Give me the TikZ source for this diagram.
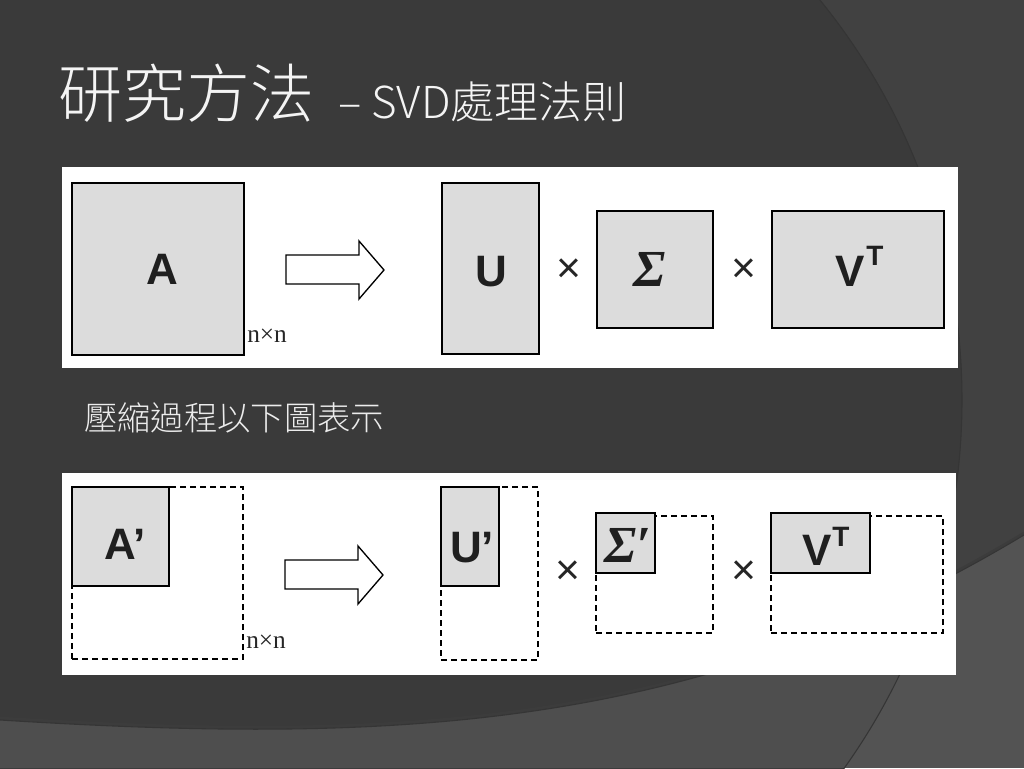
\documentclass[tikz,border=0pt]{standalone}
\usepackage{fontspec}
\usetikzlibrary{fit}
\newfontfamily\cjk{Noto Sans CJK TC}
\newfontfamily\cjklight{Noto Sans CJK TC Light}
\newfontfamily\lsans{Liberation Sans}
\newfontfamily\lserif{Liberation Serif}
\definecolor{bgA}{HTML}{3A3A3A}
\definecolor{bgB}{HTML}{414141}
\definecolor{bgC}{HTML}{4E4E4E}
\definecolor{bgD}{HTML}{535353}
\definecolor{edgeA}{HTML}{353535}
\definecolor{edgeB}{HTML}{3C3C3C}
\definecolor{boxfill}{HTML}{DCDCDC}
\definecolor{titlecol}{HTML}{F4F4F4}
\definecolor{subcol}{HTML}{ECECEC}
\tikzset{
  panel/.style={fill=white, draw=none},
  mbox/.style={draw=black, fill=boxfill, line width=1.5pt, inner sep=0pt, outer sep=0pt},
  dbox/.style={draw=black, line width=1.5pt, dash pattern=on 4.5pt off 3pt, inner sep=0pt, outer sep=0pt},
  blockarrow/.style={draw=black, fill=white, line width=1pt, line join=miter},
  bigletter/.style={inner sep=0pt, font=\lsans\bfseries\fontsize{33}{33}\selectfont, text=black!88},
  supletter/.style={inner sep=0pt, font=\lsans\bfseries\fontsize{21}{21}\selectfont, text=black!88},
  sigmaletter/.style={inner sep=0pt, font=\lserif\bfseries\itshape\fontsize{39}{39}\selectfont, text=black!88},
  timesop/.style={inner sep=0pt, font=\lsans\fontsize{32}{32}\selectfont, text=black!85},
  sizelabel/.style={inner sep=0pt, font=\lserif\fontsize{19}{19}\selectfont, text=black!85},
}
\begin{document}
\begin{tikzpicture}[x=0.75pt,y=-0.75pt]
% background
\useasboundingbox (0,0) rectangle (1024,768);
\fill[bgB] (0,0) rectangle (1024,768);
\fill[bgA] (328,400) circle [radius=475.5pt];
\begin{scope}
  \clip (0,720) .. controls (400,745) and (700,730) .. (1024,535) -- (1024,768) -- (0,768) -- cycle;
  \fill[bgD] (0,0) rectangle (1024,768);
  \fill[bgC] (328,400) circle [radius=475.5pt];
\end{scope}
\draw[edgeA, line width=0.8pt] (328,400) circle [radius=475.5pt];
\draw[edgeB, line width=2pt] (0,718) .. controls (400,743) and (700,728) .. (1024,533);
\draw[edgeA, line width=0.8pt] (0,720) .. controls (400,745) and (700,730) .. (1024,535);

% title
\node[anchor=base west, inner sep=0pt, text=titlecol, font=\cjklight\fontsize{48}{48}\selectfont] (title) at (58,117) {研究方法};
\node[anchor=base west, inner sep=0pt, text=titlecol, font=\cjklight\fontsize{33}{33}\selectfont] (title2) at (338,118) {– SVD處理法則};

% panels
\fill[panel] (62,167) rectangle (958,368);
\fill[panel] (62,473) rectangle (956,675);

% top row
\node[mbox, fit={(72,183) (244,355)}] (A) {};
\node[bigletter, anchor=base] (Alab) at (162,284) {A};
\node[sizelabel, anchor=base west] (nn1) at (247,342) {n×n};
\draw[blockarrow] (286,255) -- (359,255) -- (359,241) -- (384,270) -- (359,299) -- (359,284) -- (286,284) -- cycle;

\node[mbox, fit={(442,183) (539,354)}] (U) {};
\node[bigletter, anchor=base] (Ulab) at (491,286) {U};
\node[timesop] (x1) at (569,271) {×};
\node[mbox, fit={(597,211) (713,328)}] (S) {};
\node[sigmaletter, anchor=base] (Slab) at (650,286) {Σ};
\node[timesop] (x2) at (744,271) {×};
\node[mbox, fit={(772,211) (944,328)}] (V) {};
\node[bigletter, anchor=base] (Vlab) at (850,286) {V};
\node[supletter, anchor=base west] (Tlab) at (866,265) {T};

% bottom row
\node[dbox, fit={(72,487) (243,659)}] (Ad) {};
\node[mbox, fit={(72,487) (169,586)}] (Ap) {};
\node[bigletter, anchor=base] (Aplab) at (125,559) {A’};
\node[sizelabel, anchor=base west] (nn2) at (246,648) {n×n};
\draw[blockarrow] (285,560) -- (358,560) -- (358,546) -- (383,575) -- (358,604) -- (358,589) -- (285,589) -- cycle;

\node[dbox, fit={(441,487) (538,660)}] (Ud) {};
\node[mbox, fit={(441,487) (499,586)}] (Up) {};
\node[bigletter, anchor=base] (Uplab) at (472,562) {U’};
\node[timesop] (x3) at (568,573) {×};
\node[dbox, fit={(596,516) (713,633)}] (Sd) {};
\node[mbox, fit={(596,513) (655,573)}] (Sp) {};
\node[sigmaletter, anchor=base] (Splab) at (628,562) {Σ′};
\node[timesop] (x4) at (744,573) {×};
\node[dbox, fit={(771,516) (943,633)}] (Vd) {};
\node[mbox, fit={(771,513) (870,573)}] (Vp) {};
\node[bigletter, anchor=base] (Vplab) at (817,565) {V};
\node[supletter, anchor=base west] (Tplab) at (832,546) {T};

% subtitle
\node[anchor=base west, inner sep=0pt, text=subcol, font=\cjklight\fontsize{25}{25}\selectfont] (sub) at (84,430) {壓縮過程以下圖表示};
\end{tikzpicture}
\end{document}
